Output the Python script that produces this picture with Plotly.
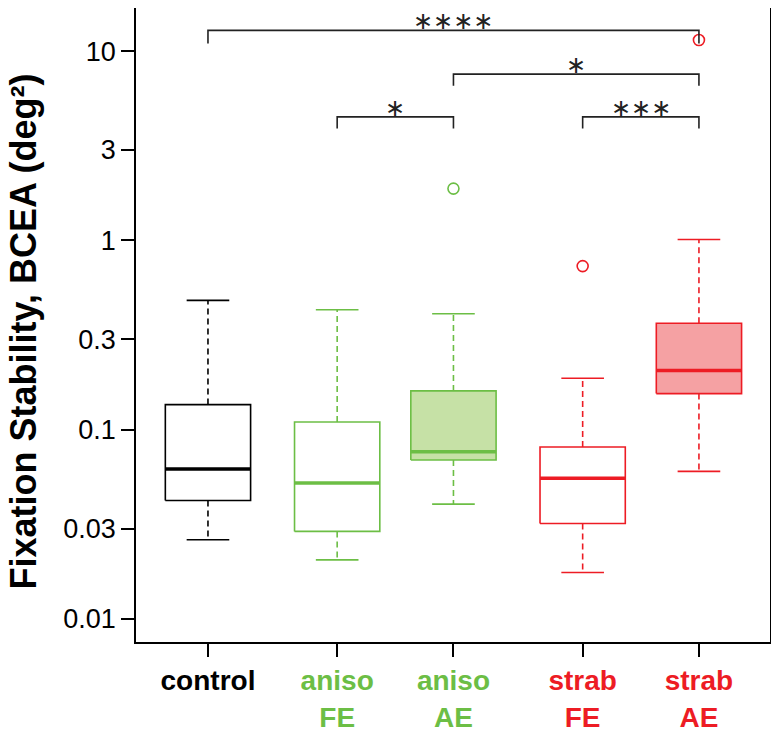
import numpy as np
import plotly.graph_objects as go

# ---- data ----
groups = ["control", "aniso FE", "aniso AE", "strab FE", "strab AE"]
tick_lines = [["control"], ["aniso", "FE"], ["aniso", "AE"], ["strab", "FE"], ["strab", "AE"]]
xpos = [1.0, 2.0, 2.9, 3.9, 4.8]
lower_whisker = [0.0262, 0.0205, 0.0404, 0.0176, 0.0602]
q1 = [0.0422, 0.0290, 0.0691, 0.0319, 0.155]
median = [0.0619, 0.0522, 0.0765, 0.0553, 0.205]
q3 = [0.1356, 0.1098, 0.1602, 0.0810, 0.365]
upper_whisker = [0.4815, 0.430, 0.4094, 0.1868, 1.01]
outlier_group = [2, 3, 4]
outlier_values = [1.877, 0.731, 11.43]

colors = ["#000000", "#6CBE45", "#6CBE45", "#ED1C24", "#ED1C24"]
fills = ["#FFFFFF", "#FFFFFF", "#C6E1A6", "#FFFFFF", "#F5A1A3"]

bracket_left = [0, 2, 1, 3]
bracket_right = [4, 4, 2, 4]
bracket_top = [12.86, 7.555, 4.49, 4.49]
bracket_foot = [10.98, 6.55, 3.90, 3.90]
bracket_label = ["∗∗∗∗", "∗", "∗", "∗∗∗"]

y_tickvals = [0.01, 0.03, 0.1, 0.3, 1, 3, 10]
y_ticktext = ["0.01", "0.03", "0.1", "0.3", "1", "3", "10"]
y_title = "Fixation Stability, BCEA (deg²)"

box_half = 0.33
cap_half = 0.165

fig = go.Figure()

for i, g in enumerate(groups):
    x = xpos[i]
    c = colors[i]
    # whiskers (dashed)
    fig.add_trace(go.Scatter(
        x=[x, x, None, x, x],
        y=[q3[i], upper_whisker[i], None, q1[i], lower_whisker[i]],
        mode="lines", line=dict(color=c, width=1.6, dash="6px,4px"),
        hoverinfo="skip", showlegend=False))
    # caps
    fig.add_trace(go.Scatter(
        x=[x - cap_half, x + cap_half, None, x - cap_half, x + cap_half],
        y=[upper_whisker[i], upper_whisker[i], None, lower_whisker[i], lower_whisker[i]],
        mode="lines", line=dict(color=c, width=1.6),
        hoverinfo="skip", showlegend=False))
    # box
    fig.add_trace(go.Scatter(
        x=[x - box_half, x + box_half, x + box_half, x - box_half, x - box_half],
        y=[q1[i], q1[i], q3[i], q3[i], q1[i]],
        mode="lines", fill="toself", fillcolor=fills[i],
        line=dict(color=c, width=1.6),
        hoverinfo="skip", showlegend=False))
    # median
    fig.add_trace(go.Scatter(
        x=[x - box_half, x + box_half], y=[median[i], median[i]],
        mode="lines", line=dict(color=c, width=3.5),
        hoverinfo="skip", showlegend=False))

# outliers
fig.add_trace(go.Scatter(
    x=[xpos[k] for k in outlier_group], y=outlier_values, mode="markers",
    marker=dict(symbol="circle-open", size=11, color=[colors[k] for k in outlier_group],
                line=dict(width=1.6, color=[colors[k] for k in outlier_group])),
    hoverinfo="skip", showlegend=False))

# significance brackets
for j in range(len(bracket_label)):
    xl = xpos[bracket_left[j]]
    xr = xpos[bracket_right[j]]
    fig.add_trace(go.Scatter(
        x=[xl, xl, xr, xr], y=[bracket_foot[j], bracket_top[j], bracket_top[j], bracket_foot[j]],
        mode="lines", line=dict(color="#222222", width=1.6),
        hoverinfo="skip", showlegend=False))
    fig.add_annotation(
        x=(xl + xr) / 2, y=np.log10(bracket_top[j]), xref="x", yref="y",
        text=bracket_label[j], showarrow=False, yanchor="middle", yshift=9,
        borderpad=0, font=dict(family="DejaVu Sans", size=24, color="#222222"))

# y-axis title placed as a rotated annotation
fig.add_annotation(
    x=-0.178, y=0.49, xref="paper", yref="paper", text=y_title,
    textangle=-90, showarrow=False, xanchor="center", yanchor="middle",
    borderpad=0, font=dict(size=36, weight="bold", color="black"))

tick_text = []
for i, lines in enumerate(tick_lines):
    tick_text.append("<br>".join(
        "<span style='color:%s'>%s</span>" % (colors[i], s) for s in lines))

# the page body adds an 8px offset, so the figure is sized 8px smaller
fig.update_layout(
    template="none",
    width=771, height=727,
    margin=dict(l=128, r=9, t=0, b=93, autoexpand=False),
    paper_bgcolor="white", plot_bgcolor="white",
    font=dict(family="Liberation Sans, Arial, sans-serif", color="black"),
    showlegend=False,
    xaxis=dict(
        range=[0.443, 5.35], tickmode="array", tickvals=xpos, ticktext=tick_text,
        ticks="outside", ticklen=13, tickwidth=1.5, tickcolor="black",
        tickfont=dict(size=28, weight="bold"), automargin=False,
        showgrid=False, zeroline=False, showline=True, linecolor="black",
        linewidth=1.5, mirror=True, ticklabelstandoff=0),
    yaxis=dict(
        type="log", range=[-2.122, 1.2275], tickmode="array",
        tickvals=y_tickvals, ticktext=y_ticktext, automargin=False,
        ticks="outside", ticklen=13, tickwidth=1.5, tickcolor="black",
        tickfont=dict(size=27),
        showgrid=False, zeroline=False, showline=True, linecolor="black",
        linewidth=1.5, mirror=True),
)

fig.write_html("out.html")
